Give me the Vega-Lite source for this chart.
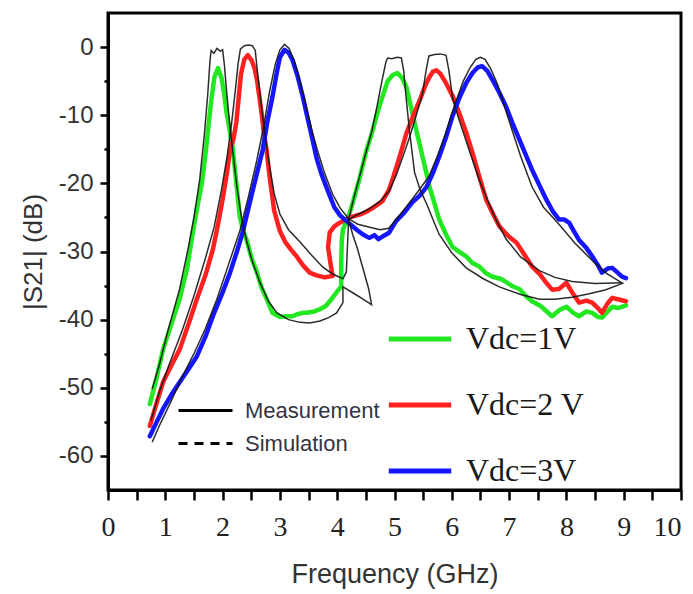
{
  "$schema": "https://vega.github.io/schema/vega-lite/v6.json",
  "autosize": "none",
  "width": 573,
  "height": 477,
  "padding": {"left": 108, "top": 13, "right": 12, "bottom": 104},
  "background": "white",
  "config": {
    "view": {"stroke": "black", "strokeWidth": 3},
    "axis": {"grid": false, "domainColor": "black", "domainWidth": 3, "tickColor": "black", "tickWidth": 2.5, "titleFontWeight": "normal", "labelOverlap": false, "labelFlush": false, "labelBound": false}
  },
  "datasets": {
    "curves": [
      {"kind":"Measurement","vdc":"Vdc=1V","i":0,"f":0.73,"db":-52.4},{"kind":"Measurement","vdc":"Vdc=1V","i":1,"f":0.85,"db":-48.5},{"kind":"Measurement","vdc":"Vdc=1V","i":2,"f":0.96,"db":-44.4},{"kind":"Measurement","vdc":"Vdc=1V","i":3,"f":1.1,"db":-40.8},{"kind":"Measurement","vdc":"Vdc=1V","i":4,"f":1.25,"db":-37},{"kind":"Measurement","vdc":"Vdc=1V","i":5,"f":1.38,"db":-32.5},{"kind":"Measurement","vdc":"Vdc=1V","i":6,"f":1.48,"db":-27.2},{"kind":"Measurement","vdc":"Vdc=1V","i":7,"f":1.57,"db":-23},{"kind":"Measurement","vdc":"Vdc=1V","i":8,"f":1.64,"db":-19.9},{"kind":"Measurement","vdc":"Vdc=1V","i":9,"f":1.71,"db":-15.1},{"kind":"Measurement","vdc":"Vdc=1V","i":10,"f":1.76,"db":-11},{"kind":"Measurement","vdc":"Vdc=1V","i":11,"f":1.81,"db":-7.3},{"kind":"Measurement","vdc":"Vdc=1V","i":12,"f":1.86,"db":-4.3},{"kind":"Measurement","vdc":"Vdc=1V","i":13,"f":1.92,"db":-3.1},{"kind":"Measurement","vdc":"Vdc=1V","i":14,"f":1.98,"db":-4.5},{"kind":"Measurement","vdc":"Vdc=1V","i":15,"f":2.03,"db":-7},{"kind":"Measurement","vdc":"Vdc=1V","i":16,"f":2.07,"db":-9.7},{"kind":"Measurement","vdc":"Vdc=1V","i":17,"f":2.12,"db":-12},{"kind":"Measurement","vdc":"Vdc=1V","i":18,"f":2.18,"db":-15.1},{"kind":"Measurement","vdc":"Vdc=1V","i":19,"f":2.24,"db":-20},{"kind":"Measurement","vdc":"Vdc=1V","i":20,"f":2.3,"db":-24.9},{"kind":"Measurement","vdc":"Vdc=1V","i":21,"f":2.36,"db":-27},{"kind":"Measurement","vdc":"Vdc=1V","i":22,"f":2.42,"db":-28.3},{"kind":"Measurement","vdc":"Vdc=1V","i":23,"f":2.5,"db":-30.8},{"kind":"Measurement","vdc":"Vdc=1V","i":24,"f":2.6,"db":-33.1},{"kind":"Measurement","vdc":"Vdc=1V","i":25,"f":2.68,"db":-35.3},{"kind":"Measurement","vdc":"Vdc=1V","i":26,"f":2.77,"db":-37},{"kind":"Measurement","vdc":"Vdc=1V","i":27,"f":2.87,"db":-39},{"kind":"Measurement","vdc":"Vdc=1V","i":28,"f":3.0,"db":-39.6},{"kind":"Measurement","vdc":"Vdc=1V","i":29,"f":3.12,"db":-39.5},{"kind":"Measurement","vdc":"Vdc=1V","i":30,"f":3.22,"db":-39.5},{"kind":"Measurement","vdc":"Vdc=1V","i":31,"f":3.3,"db":-39.2},{"kind":"Measurement","vdc":"Vdc=1V","i":32,"f":3.4,"db":-39},{"kind":"Measurement","vdc":"Vdc=1V","i":33,"f":3.47,"db":-39},{"kind":"Measurement","vdc":"Vdc=1V","i":34,"f":3.6,"db":-38.8},{"kind":"Measurement","vdc":"Vdc=1V","i":35,"f":3.69,"db":-38.5},{"kind":"Measurement","vdc":"Vdc=1V","i":36,"f":3.8,"db":-38},{"kind":"Measurement","vdc":"Vdc=1V","i":37,"f":3.9,"db":-37},{"kind":"Measurement","vdc":"Vdc=1V","i":38,"f":3.99,"db":-36},{"kind":"Measurement","vdc":"Vdc=1V","i":39,"f":4.07,"db":-35.1},{"kind":"Measurement","vdc":"Vdc=1V","i":40,"f":4.07,"db":-31.6},{"kind":"Measurement","vdc":"Vdc=1V","i":41,"f":4.08,"db":-28.5},{"kind":"Measurement","vdc":"Vdc=1V","i":42,"f":4.1,"db":-26.8},{"kind":"Measurement","vdc":"Vdc=1V","i":43,"f":4.22,"db":-24.3},{"kind":"Measurement","vdc":"Vdc=1V","i":44,"f":4.3,"db":-22},{"kind":"Measurement","vdc":"Vdc=1V","i":45,"f":4.39,"db":-19.3},{"kind":"Measurement","vdc":"Vdc=1V","i":46,"f":4.5,"db":-15.5},{"kind":"Measurement","vdc":"Vdc=1V","i":47,"f":4.62,"db":-12.2},{"kind":"Measurement","vdc":"Vdc=1V","i":48,"f":4.7,"db":-9.7},{"kind":"Measurement","vdc":"Vdc=1V","i":49,"f":4.79,"db":-7.3},{"kind":"Measurement","vdc":"Vdc=1V","i":50,"f":4.88,"db":-5},{"kind":"Measurement","vdc":"Vdc=1V","i":51,"f":4.97,"db":-4.1},{"kind":"Measurement","vdc":"Vdc=1V","i":52,"f":5.05,"db":-3.8},{"kind":"Measurement","vdc":"Vdc=1V","i":53,"f":5.13,"db":-4.5},{"kind":"Measurement","vdc":"Vdc=1V","i":54,"f":5.21,"db":-5.9},{"kind":"Measurement","vdc":"Vdc=1V","i":55,"f":5.28,"db":-8.5},{"kind":"Measurement","vdc":"Vdc=1V","i":56,"f":5.35,"db":-11.1},{"kind":"Measurement","vdc":"Vdc=1V","i":57,"f":5.42,"db":-13.6},{"kind":"Measurement","vdc":"Vdc=1V","i":58,"f":5.49,"db":-16.1},{"kind":"Measurement","vdc":"Vdc=1V","i":59,"f":5.57,"db":-19},{"kind":"Measurement","vdc":"Vdc=1V","i":60,"f":5.61,"db":-20.5},{"kind":"Measurement","vdc":"Vdc=1V","i":61,"f":5.7,"db":-23},{"kind":"Measurement","vdc":"Vdc=1V","i":62,"f":5.78,"db":-25.3},{"kind":"Measurement","vdc":"Vdc=1V","i":63,"f":5.9,"db":-27.5},{"kind":"Measurement","vdc":"Vdc=1V","i":64,"f":6.01,"db":-29.3},{"kind":"Measurement","vdc":"Vdc=1V","i":65,"f":6.12,"db":-30},{"kind":"Measurement","vdc":"Vdc=1V","i":66,"f":6.25,"db":-30.7},{"kind":"Measurement","vdc":"Vdc=1V","i":67,"f":6.36,"db":-31.7},{"kind":"Measurement","vdc":"Vdc=1V","i":68,"f":6.48,"db":-32.2},{"kind":"Measurement","vdc":"Vdc=1V","i":69,"f":6.6,"db":-33.2},{"kind":"Measurement","vdc":"Vdc=1V","i":70,"f":6.71,"db":-33.7},{"kind":"Measurement","vdc":"Vdc=1V","i":71,"f":6.85,"db":-34},{"kind":"Measurement","vdc":"Vdc=1V","i":72,"f":6.95,"db":-34.5},{"kind":"Measurement","vdc":"Vdc=1V","i":73,"f":7.06,"db":-35.1},{"kind":"Measurement","vdc":"Vdc=1V","i":74,"f":7.18,"db":-35.5},{"kind":"Measurement","vdc":"Vdc=1V","i":75,"f":7.3,"db":-36.6},{"kind":"Measurement","vdc":"Vdc=1V","i":76,"f":7.4,"db":-37.3},{"kind":"Measurement","vdc":"Vdc=1V","i":77,"f":7.55,"db":-38},{"kind":"Measurement","vdc":"Vdc=1V","i":78,"f":7.75,"db":-39.5},{"kind":"Measurement","vdc":"Vdc=1V","i":79,"f":7.88,"db":-38.6},{"kind":"Measurement","vdc":"Vdc=1V","i":80,"f":8.0,"db":-38.1},{"kind":"Measurement","vdc":"Vdc=1V","i":81,"f":8.12,"db":-39},{"kind":"Measurement","vdc":"Vdc=1V","i":82,"f":8.22,"db":-39.5},{"kind":"Measurement","vdc":"Vdc=1V","i":83,"f":8.35,"db":-38.8},{"kind":"Measurement","vdc":"Vdc=1V","i":84,"f":8.45,"db":-39},{"kind":"Measurement","vdc":"Vdc=1V","i":85,"f":8.55,"db":-39.6},{"kind":"Measurement","vdc":"Vdc=1V","i":86,"f":8.62,"db":-39.7},{"kind":"Measurement","vdc":"Vdc=1V","i":87,"f":8.72,"db":-38.8},{"kind":"Measurement","vdc":"Vdc=1V","i":88,"f":8.8,"db":-38.1},{"kind":"Measurement","vdc":"Vdc=1V","i":89,"f":8.9,"db":-38.3},{"kind":"Measurement","vdc":"Vdc=1V","i":90,"f":9.04,"db":-37.9},

      {"kind":"Measurement","vdc":"Vdc=2 V","i":0,"f":0.73,"db":-55.6},{"kind":"Measurement","vdc":"Vdc=2 V","i":1,"f":0.85,"db":-52.2},{"kind":"Measurement","vdc":"Vdc=2 V","i":2,"f":0.96,"db":-49.2},{"kind":"Measurement","vdc":"Vdc=2 V","i":3,"f":1.1,"db":-46.8},{"kind":"Measurement","vdc":"Vdc=2 V","i":4,"f":1.25,"db":-44.4},{"kind":"Measurement","vdc":"Vdc=2 V","i":5,"f":1.4,"db":-40.8},{"kind":"Measurement","vdc":"Vdc=2 V","i":6,"f":1.55,"db":-37},{"kind":"Measurement","vdc":"Vdc=2 V","i":7,"f":1.7,"db":-33.5},{"kind":"Measurement","vdc":"Vdc=2 V","i":8,"f":1.83,"db":-29.7},{"kind":"Measurement","vdc":"Vdc=2 V","i":9,"f":1.92,"db":-26},{"kind":"Measurement","vdc":"Vdc=2 V","i":10,"f":2.0,"db":-22.4},{"kind":"Measurement","vdc":"Vdc=2 V","i":11,"f":2.07,"db":-18.8},{"kind":"Measurement","vdc":"Vdc=2 V","i":12,"f":2.13,"db":-15.1},{"kind":"Measurement","vdc":"Vdc=2 V","i":13,"f":2.19,"db":-13.5},{"kind":"Measurement","vdc":"Vdc=2 V","i":14,"f":2.24,"db":-11},{"kind":"Measurement","vdc":"Vdc=2 V","i":15,"f":2.28,"db":-7.5},{"kind":"Measurement","vdc":"Vdc=2 V","i":16,"f":2.32,"db":-4},{"kind":"Measurement","vdc":"Vdc=2 V","i":17,"f":2.38,"db":-1.8},{"kind":"Measurement","vdc":"Vdc=2 V","i":18,"f":2.44,"db":-1.2},{"kind":"Measurement","vdc":"Vdc=2 V","i":19,"f":2.51,"db":-2},{"kind":"Measurement","vdc":"Vdc=2 V","i":20,"f":2.56,"db":-3.2},{"kind":"Measurement","vdc":"Vdc=2 V","i":21,"f":2.6,"db":-4.8},{"kind":"Measurement","vdc":"Vdc=2 V","i":22,"f":2.64,"db":-7.2},{"kind":"Measurement","vdc":"Vdc=2 V","i":23,"f":2.68,"db":-9.7},{"kind":"Measurement","vdc":"Vdc=2 V","i":24,"f":2.72,"db":-12.5},{"kind":"Measurement","vdc":"Vdc=2 V","i":25,"f":2.77,"db":-15.3},{"kind":"Measurement","vdc":"Vdc=2 V","i":26,"f":2.82,"db":-19},{"kind":"Measurement","vdc":"Vdc=2 V","i":27,"f":2.9,"db":-24},{"kind":"Measurement","vdc":"Vdc=2 V","i":28,"f":3.0,"db":-27},{"kind":"Measurement","vdc":"Vdc=2 V","i":29,"f":3.1,"db":-28.7},{"kind":"Measurement","vdc":"Vdc=2 V","i":30,"f":3.2,"db":-29.8},{"kind":"Measurement","vdc":"Vdc=2 V","i":31,"f":3.29,"db":-30.7},{"kind":"Measurement","vdc":"Vdc=2 V","i":32,"f":3.4,"db":-32},{"kind":"Measurement","vdc":"Vdc=2 V","i":33,"f":3.52,"db":-33.1},{"kind":"Measurement","vdc":"Vdc=2 V","i":34,"f":3.64,"db":-33.5},{"kind":"Measurement","vdc":"Vdc=2 V","i":35,"f":3.78,"db":-33.8},{"kind":"Measurement","vdc":"Vdc=2 V","i":36,"f":3.92,"db":-33.6},{"kind":"Measurement","vdc":"Vdc=2 V","i":37,"f":3.88,"db":-31.6},{"kind":"Measurement","vdc":"Vdc=2 V","i":38,"f":3.84,"db":-29.3},{"kind":"Measurement","vdc":"Vdc=2 V","i":39,"f":3.87,"db":-27.2},{"kind":"Measurement","vdc":"Vdc=2 V","i":40,"f":3.95,"db":-26.3},{"kind":"Measurement","vdc":"Vdc=2 V","i":41,"f":4.04,"db":-25.8},{"kind":"Measurement","vdc":"Vdc=2 V","i":42,"f":4.22,"db":-25},{"kind":"Measurement","vdc":"Vdc=2 V","i":43,"f":4.39,"db":-24.6},{"kind":"Measurement","vdc":"Vdc=2 V","i":44,"f":4.5,"db":-24.2},{"kind":"Measurement","vdc":"Vdc=2 V","i":45,"f":4.64,"db":-23.5},{"kind":"Measurement","vdc":"Vdc=2 V","i":46,"f":4.79,"db":-22.6},{"kind":"Measurement","vdc":"Vdc=2 V","i":47,"f":4.9,"db":-21},{"kind":"Measurement","vdc":"Vdc=2 V","i":48,"f":4.97,"db":-19.3},{"kind":"Measurement","vdc":"Vdc=2 V","i":49,"f":5.1,"db":-15.8},{"kind":"Measurement","vdc":"Vdc=2 V","i":50,"f":5.21,"db":-12.6},{"kind":"Measurement","vdc":"Vdc=2 V","i":51,"f":5.33,"db":-10},{"kind":"Measurement","vdc":"Vdc=2 V","i":52,"f":5.44,"db":-7.8},{"kind":"Measurement","vdc":"Vdc=2 V","i":53,"f":5.53,"db":-5.8},{"kind":"Measurement","vdc":"Vdc=2 V","i":54,"f":5.61,"db":-4.4},{"kind":"Measurement","vdc":"Vdc=2 V","i":55,"f":5.67,"db":-3.6},{"kind":"Measurement","vdc":"Vdc=2 V","i":56,"f":5.73,"db":-3.4},{"kind":"Measurement","vdc":"Vdc=2 V","i":57,"f":5.8,"db":-3.9},{"kind":"Measurement","vdc":"Vdc=2 V","i":58,"f":5.9,"db":-5.3},{"kind":"Measurement","vdc":"Vdc=2 V","i":59,"f":6.02,"db":-7.3},{"kind":"Measurement","vdc":"Vdc=2 V","i":60,"f":6.13,"db":-9.7},{"kind":"Measurement","vdc":"Vdc=2 V","i":61,"f":6.25,"db":-12.5},{"kind":"Measurement","vdc":"Vdc=2 V","i":62,"f":6.36,"db":-15.5},{"kind":"Measurement","vdc":"Vdc=2 V","i":63,"f":6.48,"db":-19},{"kind":"Measurement","vdc":"Vdc=2 V","i":64,"f":6.6,"db":-22.4},{"kind":"Measurement","vdc":"Vdc=2 V","i":65,"f":6.72,"db":-24.5},{"kind":"Measurement","vdc":"Vdc=2 V","i":66,"f":6.83,"db":-26.3},{"kind":"Measurement","vdc":"Vdc=2 V","i":67,"f":6.98,"db":-27.7},{"kind":"Measurement","vdc":"Vdc=2 V","i":68,"f":7.13,"db":-28.7},{"kind":"Measurement","vdc":"Vdc=2 V","i":69,"f":7.27,"db":-30.5},{"kind":"Measurement","vdc":"Vdc=2 V","i":70,"f":7.4,"db":-32.2},{"kind":"Measurement","vdc":"Vdc=2 V","i":71,"f":7.53,"db":-33.3},{"kind":"Measurement","vdc":"Vdc=2 V","i":72,"f":7.65,"db":-34.6},{"kind":"Measurement","vdc":"Vdc=2 V","i":73,"f":7.75,"db":-35.6},{"kind":"Measurement","vdc":"Vdc=2 V","i":74,"f":7.87,"db":-35.5},{"kind":"Measurement","vdc":"Vdc=2 V","i":75,"f":8.0,"db":-34.6},{"kind":"Measurement","vdc":"Vdc=2 V","i":76,"f":8.1,"db":-36},{"kind":"Measurement","vdc":"Vdc=2 V","i":77,"f":8.22,"db":-37.5},{"kind":"Measurement","vdc":"Vdc=2 V","i":78,"f":8.35,"db":-37.2},{"kind":"Measurement","vdc":"Vdc=2 V","i":79,"f":8.45,"db":-37.5},{"kind":"Measurement","vdc":"Vdc=2 V","i":80,"f":8.55,"db":-38.3},{"kind":"Measurement","vdc":"Vdc=2 V","i":81,"f":8.62,"db":-39},{"kind":"Measurement","vdc":"Vdc=2 V","i":82,"f":8.72,"db":-37.6},{"kind":"Measurement","vdc":"Vdc=2 V","i":83,"f":8.8,"db":-36.8},{"kind":"Measurement","vdc":"Vdc=2 V","i":84,"f":8.9,"db":-37},{"kind":"Measurement","vdc":"Vdc=2 V","i":85,"f":9.04,"db":-37.3},

      {"kind":"Measurement","vdc":"Vdc=3V","i":0,"f":0.73,"db":-57.1},{"kind":"Measurement","vdc":"Vdc=3V","i":1,"f":0.85,"db":-55},{"kind":"Measurement","vdc":"Vdc=3V","i":2,"f":0.96,"db":-53.1},{"kind":"Measurement","vdc":"Vdc=3V","i":3,"f":1.1,"db":-51.1},{"kind":"Measurement","vdc":"Vdc=3V","i":4,"f":1.25,"db":-49.2},{"kind":"Measurement","vdc":"Vdc=3V","i":5,"f":1.4,"db":-47.3},{"kind":"Measurement","vdc":"Vdc=3V","i":6,"f":1.55,"db":-45.4},{"kind":"Measurement","vdc":"Vdc=3V","i":7,"f":1.7,"db":-42.5},{"kind":"Measurement","vdc":"Vdc=3V","i":8,"f":1.83,"db":-39.5},{"kind":"Measurement","vdc":"Vdc=3V","i":9,"f":2.0,"db":-36},{"kind":"Measurement","vdc":"Vdc=3V","i":10,"f":2.13,"db":-33.1},{"kind":"Measurement","vdc":"Vdc=3V","i":11,"f":2.25,"db":-30},{"kind":"Measurement","vdc":"Vdc=3V","i":12,"f":2.35,"db":-27.2},{"kind":"Measurement","vdc":"Vdc=3V","i":13,"f":2.44,"db":-24},{"kind":"Measurement","vdc":"Vdc=3V","i":14,"f":2.53,"db":-20.9},{"kind":"Measurement","vdc":"Vdc=3V","i":15,"f":2.62,"db":-17.8},{"kind":"Measurement","vdc":"Vdc=3V","i":16,"f":2.7,"db":-15.1},{"kind":"Measurement","vdc":"Vdc=3V","i":17,"f":2.78,"db":-11},{"kind":"Measurement","vdc":"Vdc=3V","i":18,"f":2.87,"db":-7.3},{"kind":"Measurement","vdc":"Vdc=3V","i":19,"f":2.94,"db":-4},{"kind":"Measurement","vdc":"Vdc=3V","i":20,"f":3.0,"db":-1.5},{"kind":"Measurement","vdc":"Vdc=3V","i":21,"f":3.08,"db":-0.4},{"kind":"Measurement","vdc":"Vdc=3V","i":22,"f":3.15,"db":-0.8},{"kind":"Measurement","vdc":"Vdc=3V","i":23,"f":3.22,"db":-1.9},{"kind":"Measurement","vdc":"Vdc=3V","i":24,"f":3.31,"db":-4.3},{"kind":"Measurement","vdc":"Vdc=3V","i":25,"f":3.4,"db":-7.3},{"kind":"Measurement","vdc":"Vdc=3V","i":26,"f":3.48,"db":-10.3},{"kind":"Measurement","vdc":"Vdc=3V","i":27,"f":3.57,"db":-13.6},{"kind":"Measurement","vdc":"Vdc=3V","i":28,"f":3.64,"db":-16.3},{"kind":"Measurement","vdc":"Vdc=3V","i":29,"f":3.72,"db":-18.5},{"kind":"Measurement","vdc":"Vdc=3V","i":30,"f":3.8,"db":-20.3},{"kind":"Measurement","vdc":"Vdc=3V","i":31,"f":3.87,"db":-21.8},{"kind":"Measurement","vdc":"Vdc=3V","i":32,"f":3.95,"db":-23.5},{"kind":"Measurement","vdc":"Vdc=3V","i":33,"f":4.05,"db":-24.7},{"kind":"Measurement","vdc":"Vdc=3V","i":34,"f":4.16,"db":-25.5},{"kind":"Measurement","vdc":"Vdc=3V","i":35,"f":4.34,"db":-26.8},{"kind":"Measurement","vdc":"Vdc=3V","i":36,"f":4.45,"db":-27.5},{"kind":"Measurement","vdc":"Vdc=3V","i":37,"f":4.56,"db":-28},{"kind":"Measurement","vdc":"Vdc=3V","i":38,"f":4.65,"db":-27.6},{"kind":"Measurement","vdc":"Vdc=3V","i":39,"f":4.72,"db":-28.2},{"kind":"Measurement","vdc":"Vdc=3V","i":40,"f":4.79,"db":-27.8},{"kind":"Measurement","vdc":"Vdc=3V","i":41,"f":4.9,"db":-27.3},{"kind":"Measurement","vdc":"Vdc=3V","i":42,"f":5.03,"db":-25.5},{"kind":"Measurement","vdc":"Vdc=3V","i":43,"f":5.17,"db":-24.3},{"kind":"Measurement","vdc":"Vdc=3V","i":44,"f":5.31,"db":-22.8},{"kind":"Measurement","vdc":"Vdc=3V","i":45,"f":5.44,"db":-21.8},{"kind":"Measurement","vdc":"Vdc=3V","i":46,"f":5.56,"db":-20.5},{"kind":"Measurement","vdc":"Vdc=3V","i":47,"f":5.67,"db":-18.5},{"kind":"Measurement","vdc":"Vdc=3V","i":48,"f":5.78,"db":-16.1},{"kind":"Measurement","vdc":"Vdc=3V","i":49,"f":5.9,"db":-13.2},{"kind":"Measurement","vdc":"Vdc=3V","i":50,"f":6.01,"db":-10.2},{"kind":"Measurement","vdc":"Vdc=3V","i":51,"f":6.13,"db":-7.5},{"kind":"Measurement","vdc":"Vdc=3V","i":52,"f":6.25,"db":-5.3},{"kind":"Measurement","vdc":"Vdc=3V","i":53,"f":6.36,"db":-3.8},{"kind":"Measurement","vdc":"Vdc=3V","i":54,"f":6.45,"db":-3.0},{"kind":"Measurement","vdc":"Vdc=3V","i":55,"f":6.53,"db":-2.8},{"kind":"Measurement","vdc":"Vdc=3V","i":56,"f":6.62,"db":-3.5},{"kind":"Measurement","vdc":"Vdc=3V","i":57,"f":6.71,"db":-4.8},{"kind":"Measurement","vdc":"Vdc=3V","i":58,"f":6.83,"db":-6.7},{"kind":"Measurement","vdc":"Vdc=3V","i":59,"f":6.95,"db":-8.8},{"kind":"Measurement","vdc":"Vdc=3V","i":60,"f":7.06,"db":-11.2},{"kind":"Measurement","vdc":"Vdc=3V","i":61,"f":7.18,"db":-13.6},{"kind":"Measurement","vdc":"Vdc=3V","i":62,"f":7.3,"db":-16},{"kind":"Measurement","vdc":"Vdc=3V","i":63,"f":7.4,"db":-18},{"kind":"Measurement","vdc":"Vdc=3V","i":64,"f":7.53,"db":-20.3},{"kind":"Measurement","vdc":"Vdc=3V","i":65,"f":7.65,"db":-22.4},{"kind":"Measurement","vdc":"Vdc=3V","i":66,"f":7.77,"db":-24.2},{"kind":"Measurement","vdc":"Vdc=3V","i":67,"f":7.87,"db":-25.3},{"kind":"Measurement","vdc":"Vdc=3V","i":68,"f":7.96,"db":-25.3},{"kind":"Measurement","vdc":"Vdc=3V","i":69,"f":8.05,"db":-25.8},{"kind":"Measurement","vdc":"Vdc=3V","i":70,"f":8.13,"db":-27},{"kind":"Measurement","vdc":"Vdc=3V","i":71,"f":8.22,"db":-28.3},{"kind":"Measurement","vdc":"Vdc=3V","i":72,"f":8.35,"db":-29.5},{"kind":"Measurement","vdc":"Vdc=3V","i":73,"f":8.45,"db":-30.7},{"kind":"Measurement","vdc":"Vdc=3V","i":74,"f":8.55,"db":-32},{"kind":"Measurement","vdc":"Vdc=3V","i":75,"f":8.62,"db":-33.1},{"kind":"Measurement","vdc":"Vdc=3V","i":76,"f":8.72,"db":-32.5},{"kind":"Measurement","vdc":"Vdc=3V","i":77,"f":8.8,"db":-32.4},{"kind":"Measurement","vdc":"Vdc=3V","i":78,"f":8.88,"db":-33},{"kind":"Measurement","vdc":"Vdc=3V","i":79,"f":8.97,"db":-33.7},{"kind":"Measurement","vdc":"Vdc=3V","i":80,"f":9.04,"db":-33.9},

      {"kind":"Simulation","vdc":"Vdc=1V","i":0,"f":0.77,"db":-50.2},{"kind":"Simulation","vdc":"Vdc=1V","i":1,"f":0.9,"db":-46.5},{"kind":"Simulation","vdc":"Vdc=1V","i":2,"f":1.05,"db":-41.5},{"kind":"Simulation","vdc":"Vdc=1V","i":3,"f":1.25,"db":-35.5},{"kind":"Simulation","vdc":"Vdc=1V","i":4,"f":1.4,"db":-29.5},{"kind":"Simulation","vdc":"Vdc=1V","i":5,"f":1.5,"db":-25},{"kind":"Simulation","vdc":"Vdc=1V","i":6,"f":1.6,"db":-19.5},{"kind":"Simulation","vdc":"Vdc=1V","i":7,"f":1.68,"db":-13},{"kind":"Simulation","vdc":"Vdc=1V","i":8,"f":1.74,"db":-7},{"kind":"Simulation","vdc":"Vdc=1V","i":9,"f":1.78,"db":-2},{"kind":"Simulation","vdc":"Vdc=1V","i":10,"f":1.8,"db":-0.5},{"kind":"Simulation","vdc":"Vdc=1V","i":11,"f":1.85,"db":-0.9},{"kind":"Simulation","vdc":"Vdc=1V","i":12,"f":1.9,"db":-0.2},{"kind":"Simulation","vdc":"Vdc=1V","i":13,"f":1.96,"db":-0.6},{"kind":"Simulation","vdc":"Vdc=1V","i":14,"f":2.0,"db":-0.4},{"kind":"Simulation","vdc":"Vdc=1V","i":15,"f":2.03,"db":-2.5},{"kind":"Simulation","vdc":"Vdc=1V","i":16,"f":2.07,"db":-6.5},{"kind":"Simulation","vdc":"Vdc=1V","i":17,"f":2.12,"db":-11},{"kind":"Simulation","vdc":"Vdc=1V","i":18,"f":2.18,"db":-15.5},{"kind":"Simulation","vdc":"Vdc=1V","i":19,"f":2.25,"db":-20.5},{"kind":"Simulation","vdc":"Vdc=1V","i":20,"f":2.33,"db":-25},{"kind":"Simulation","vdc":"Vdc=1V","i":21,"f":2.42,"db":-28.5},{"kind":"Simulation","vdc":"Vdc=1V","i":22,"f":2.52,"db":-31.5},{"kind":"Simulation","vdc":"Vdc=1V","i":23,"f":2.65,"db":-34.5},{"kind":"Simulation","vdc":"Vdc=1V","i":24,"f":2.8,"db":-37.3},{"kind":"Simulation","vdc":"Vdc=1V","i":25,"f":2.95,"db":-39},{"kind":"Simulation","vdc":"Vdc=1V","i":26,"f":3.15,"db":-40},{"kind":"Simulation","vdc":"Vdc=1V","i":27,"f":3.35,"db":-40.4},{"kind":"Simulation","vdc":"Vdc=1V","i":28,"f":3.52,"db":-40.5},{"kind":"Simulation","vdc":"Vdc=1V","i":29,"f":3.7,"db":-40.2},{"kind":"Simulation","vdc":"Vdc=1V","i":30,"f":3.85,"db":-39.7},{"kind":"Simulation","vdc":"Vdc=1V","i":31,"f":3.99,"db":-39},{"kind":"Simulation","vdc":"Vdc=1V","i":32,"f":4.1,"db":-37.5},{"kind":"Simulation","vdc":"Vdc=1V","i":33,"f":4.1,"db":-35.2},{"kind":"Simulation","vdc":"Vdc=1V","i":34,"f":4.3,"db":-36.2},{"kind":"Simulation","vdc":"Vdc=1V","i":35,"f":4.45,"db":-37},{"kind":"Simulation","vdc":"Vdc=1V","i":36,"f":4.6,"db":-37.8},{"kind":"Simulation","vdc":"Vdc=1V","i":37,"f":4.55,"db":-35.5},{"kind":"Simulation","vdc":"Vdc=1V","i":38,"f":4.45,"db":-32.5},{"kind":"Simulation","vdc":"Vdc=1V","i":39,"f":4.35,"db":-29.5},{"kind":"Simulation","vdc":"Vdc=1V","i":40,"f":4.27,"db":-27.5},{"kind":"Simulation","vdc":"Vdc=1V","i":41,"f":4.2,"db":-25.3},{"kind":"Simulation","vdc":"Vdc=1V","i":42,"f":4.28,"db":-22.5},{"kind":"Simulation","vdc":"Vdc=1V","i":43,"f":4.38,"db":-19.3},{"kind":"Simulation","vdc":"Vdc=1V","i":44,"f":4.5,"db":-15.5},{"kind":"Simulation","vdc":"Vdc=1V","i":45,"f":4.6,"db":-12.5},{"kind":"Simulation","vdc":"Vdc=1V","i":46,"f":4.7,"db":-8.5},{"kind":"Simulation","vdc":"Vdc=1V","i":47,"f":4.78,"db":-5},{"kind":"Simulation","vdc":"Vdc=1V","i":48,"f":4.85,"db":-2.2},{"kind":"Simulation","vdc":"Vdc=1V","i":49,"f":4.88,"db":-1.6},{"kind":"Simulation","vdc":"Vdc=1V","i":50,"f":4.95,"db":-1.7},{"kind":"Simulation","vdc":"Vdc=1V","i":51,"f":5.05,"db":-1.5},{"kind":"Simulation","vdc":"Vdc=1V","i":52,"f":5.12,"db":-1.6},{"kind":"Simulation","vdc":"Vdc=1V","i":53,"f":5.16,"db":-3.5},{"kind":"Simulation","vdc":"Vdc=1V","i":54,"f":5.21,"db":-8},{"kind":"Simulation","vdc":"Vdc=1V","i":55,"f":5.26,"db":-12.2},{"kind":"Simulation","vdc":"Vdc=1V","i":56,"f":5.35,"db":-18.4},{"kind":"Simulation","vdc":"Vdc=1V","i":57,"f":5.45,"db":-21},{"kind":"Simulation","vdc":"Vdc=1V","i":58,"f":5.56,"db":-23},{"kind":"Simulation","vdc":"Vdc=1V","i":59,"f":5.68,"db":-25.5},{"kind":"Simulation","vdc":"Vdc=1V","i":60,"f":5.78,"db":-27.5},{"kind":"Simulation","vdc":"Vdc=1V","i":61,"f":6.0,"db":-30.2},{"kind":"Simulation","vdc":"Vdc=1V","i":62,"f":6.25,"db":-32.4},{"kind":"Simulation","vdc":"Vdc=1V","i":63,"f":6.55,"db":-34},{"kind":"Simulation","vdc":"Vdc=1V","i":64,"f":6.83,"db":-35.2},{"kind":"Simulation","vdc":"Vdc=1V","i":65,"f":7.2,"db":-36.3},{"kind":"Simulation","vdc":"Vdc=1V","i":66,"f":7.53,"db":-37},{"kind":"Simulation","vdc":"Vdc=1V","i":67,"f":7.8,"db":-37},{"kind":"Simulation","vdc":"Vdc=1V","i":68,"f":8.1,"db":-36.7},{"kind":"Simulation","vdc":"Vdc=1V","i":69,"f":8.4,"db":-36.2},{"kind":"Simulation","vdc":"Vdc=1V","i":70,"f":8.69,"db":-35.6},{"kind":"Simulation","vdc":"Vdc=1V","i":71,"f":9.0,"db":-34.6},

      {"kind":"Simulation","vdc":"Vdc=2 V","i":0,"f":0.75,"db":-54.8},{"kind":"Simulation","vdc":"Vdc=2 V","i":1,"f":0.9,"db":-50.5},{"kind":"Simulation","vdc":"Vdc=2 V","i":2,"f":1.05,"db":-47},{"kind":"Simulation","vdc":"Vdc=2 V","i":3,"f":1.3,"db":-41.5},{"kind":"Simulation","vdc":"Vdc=2 V","i":4,"f":1.5,"db":-36.5},{"kind":"Simulation","vdc":"Vdc=2 V","i":5,"f":1.7,"db":-31},{"kind":"Simulation","vdc":"Vdc=2 V","i":6,"f":1.85,"db":-26.5},{"kind":"Simulation","vdc":"Vdc=2 V","i":7,"f":1.98,"db":-21},{"kind":"Simulation","vdc":"Vdc=2 V","i":8,"f":2.08,"db":-16},{"kind":"Simulation","vdc":"Vdc=2 V","i":9,"f":2.16,"db":-11},{"kind":"Simulation","vdc":"Vdc=2 V","i":10,"f":2.22,"db":-6.5},{"kind":"Simulation","vdc":"Vdc=2 V","i":11,"f":2.27,"db":-2.5},{"kind":"Simulation","vdc":"Vdc=2 V","i":12,"f":2.31,"db":-0.3},{"kind":"Simulation","vdc":"Vdc=2 V","i":13,"f":2.38,"db":0.2},{"kind":"Simulation","vdc":"Vdc=2 V","i":14,"f":2.45,"db":0.3},{"kind":"Simulation","vdc":"Vdc=2 V","i":15,"f":2.52,"db":0.2},{"kind":"Simulation","vdc":"Vdc=2 V","i":16,"f":2.57,"db":-0.5},{"kind":"Simulation","vdc":"Vdc=2 V","i":17,"f":2.6,"db":-3},{"kind":"Simulation","vdc":"Vdc=2 V","i":18,"f":2.66,"db":-7.5},{"kind":"Simulation","vdc":"Vdc=2 V","i":19,"f":2.72,"db":-11.5},{"kind":"Simulation","vdc":"Vdc=2 V","i":20,"f":2.8,"db":-16.5},{"kind":"Simulation","vdc":"Vdc=2 V","i":21,"f":2.9,"db":-21.5},{"kind":"Simulation","vdc":"Vdc=2 V","i":22,"f":3.0,"db":-24.5},{"kind":"Simulation","vdc":"Vdc=2 V","i":23,"f":3.15,"db":-26.8},{"kind":"Simulation","vdc":"Vdc=2 V","i":24,"f":3.34,"db":-28.5},{"kind":"Simulation","vdc":"Vdc=2 V","i":25,"f":3.55,"db":-30.5},{"kind":"Simulation","vdc":"Vdc=2 V","i":26,"f":3.75,"db":-32.3},{"kind":"Simulation","vdc":"Vdc=2 V","i":27,"f":3.92,"db":-33.3},{"kind":"Simulation","vdc":"Vdc=2 V","i":28,"f":4.1,"db":-34},{"kind":"Simulation","vdc":"Vdc=2 V","i":29,"f":4.16,"db":-33},{"kind":"Simulation","vdc":"Vdc=2 V","i":30,"f":4.18,"db":-29},{"kind":"Simulation","vdc":"Vdc=2 V","i":31,"f":4.2,"db":-25.3},{"kind":"Simulation","vdc":"Vdc=2 V","i":32,"f":4.35,"db":-24.6},{"kind":"Simulation","vdc":"Vdc=2 V","i":33,"f":4.55,"db":-23.8},{"kind":"Simulation","vdc":"Vdc=2 V","i":34,"f":4.75,"db":-22.6},{"kind":"Simulation","vdc":"Vdc=2 V","i":35,"f":4.9,"db":-21.2},{"kind":"Simulation","vdc":"Vdc=2 V","i":36,"f":5.03,"db":-18.8},{"kind":"Simulation","vdc":"Vdc=2 V","i":37,"f":5.15,"db":-16},{"kind":"Simulation","vdc":"Vdc=2 V","i":38,"f":5.26,"db":-13.3},{"kind":"Simulation","vdc":"Vdc=2 V","i":39,"f":5.38,"db":-10},{"kind":"Simulation","vdc":"Vdc=2 V","i":40,"f":5.49,"db":-6.8},{"kind":"Simulation","vdc":"Vdc=2 V","i":41,"f":5.55,"db":-3.5},{"kind":"Simulation","vdc":"Vdc=2 V","i":42,"f":5.6,"db":-1.3},{"kind":"Simulation","vdc":"Vdc=2 V","i":43,"f":5.7,"db":-1.1},{"kind":"Simulation","vdc":"Vdc=2 V","i":44,"f":5.8,"db":-1.0},{"kind":"Simulation","vdc":"Vdc=2 V","i":45,"f":5.9,"db":-1.2},{"kind":"Simulation","vdc":"Vdc=2 V","i":46,"f":5.95,"db":-3.5},{"kind":"Simulation","vdc":"Vdc=2 V","i":47,"f":6.01,"db":-7.3},{"kind":"Simulation","vdc":"Vdc=2 V","i":48,"f":6.12,"db":-10.5},{"kind":"Simulation","vdc":"Vdc=2 V","i":49,"f":6.25,"db":-13.8},{"kind":"Simulation","vdc":"Vdc=2 V","i":50,"f":6.37,"db":-16.8},{"kind":"Simulation","vdc":"Vdc=2 V","i":51,"f":6.48,"db":-19.5},{"kind":"Simulation","vdc":"Vdc=2 V","i":52,"f":6.62,"db":-22.4},{"kind":"Simulation","vdc":"Vdc=2 V","i":53,"f":6.78,"db":-25.5},{"kind":"Simulation","vdc":"Vdc=2 V","i":54,"f":6.95,"db":-28.2},{"kind":"Simulation","vdc":"Vdc=2 V","i":55,"f":7.2,"db":-30.8},{"kind":"Simulation","vdc":"Vdc=2 V","i":56,"f":7.53,"db":-32.8},{"kind":"Simulation","vdc":"Vdc=2 V","i":57,"f":7.8,"db":-33.8},{"kind":"Simulation","vdc":"Vdc=2 V","i":58,"f":8.1,"db":-34.4},{"kind":"Simulation","vdc":"Vdc=2 V","i":59,"f":8.5,"db":-34.7},{"kind":"Simulation","vdc":"Vdc=2 V","i":60,"f":8.97,"db":-34.6},

      {"kind":"Simulation","vdc":"Vdc=3V","i":0,"f":0.77,"db":-58},{"kind":"Simulation","vdc":"Vdc=3V","i":1,"f":0.9,"db":-55.5},{"kind":"Simulation","vdc":"Vdc=3V","i":2,"f":1.1,"db":-52},{"kind":"Simulation","vdc":"Vdc=3V","i":3,"f":1.3,"db":-48.3},{"kind":"Simulation","vdc":"Vdc=3V","i":4,"f":1.5,"db":-45},{"kind":"Simulation","vdc":"Vdc=3V","i":5,"f":1.7,"db":-41.3},{"kind":"Simulation","vdc":"Vdc=3V","i":6,"f":1.9,"db":-37},{"kind":"Simulation","vdc":"Vdc=3V","i":7,"f":2.1,"db":-32},{"kind":"Simulation","vdc":"Vdc=3V","i":8,"f":2.3,"db":-27},{"kind":"Simulation","vdc":"Vdc=3V","i":9,"f":2.45,"db":-22},{"kind":"Simulation","vdc":"Vdc=3V","i":10,"f":2.6,"db":-16.5},{"kind":"Simulation","vdc":"Vdc=3V","i":11,"f":2.72,"db":-11.5},{"kind":"Simulation","vdc":"Vdc=3V","i":12,"f":2.82,"db":-6.5},{"kind":"Simulation","vdc":"Vdc=3V","i":13,"f":2.92,"db":-2.5},{"kind":"Simulation","vdc":"Vdc=3V","i":14,"f":3.0,"db":-0.4},{"kind":"Simulation","vdc":"Vdc=3V","i":15,"f":3.08,"db":0.4},{"kind":"Simulation","vdc":"Vdc=3V","i":16,"f":3.16,"db":-0.2},{"kind":"Simulation","vdc":"Vdc=3V","i":17,"f":3.25,"db":-2},{"kind":"Simulation","vdc":"Vdc=3V","i":18,"f":3.35,"db":-5},{"kind":"Simulation","vdc":"Vdc=3V","i":19,"f":3.45,"db":-8.5},{"kind":"Simulation","vdc":"Vdc=3V","i":20,"f":3.55,"db":-12},{"kind":"Simulation","vdc":"Vdc=3V","i":21,"f":3.65,"db":-15},{"kind":"Simulation","vdc":"Vdc=3V","i":22,"f":3.78,"db":-18.5},{"kind":"Simulation","vdc":"Vdc=3V","i":23,"f":3.92,"db":-21.6},{"kind":"Simulation","vdc":"Vdc=3V","i":24,"f":4.05,"db":-23.6},{"kind":"Simulation","vdc":"Vdc=3V","i":25,"f":4.2,"db":-25.2},{"kind":"Simulation","vdc":"Vdc=3V","i":26,"f":4.36,"db":-26},{"kind":"Simulation","vdc":"Vdc=3V","i":27,"f":4.55,"db":-26.4},{"kind":"Simulation","vdc":"Vdc=3V","i":28,"f":4.75,"db":-26.8},{"kind":"Simulation","vdc":"Vdc=3V","i":29,"f":4.9,"db":-26.6},{"kind":"Simulation","vdc":"Vdc=3V","i":30,"f":5.03,"db":-25.3},{"kind":"Simulation","vdc":"Vdc=3V","i":31,"f":5.2,"db":-23.5},{"kind":"Simulation","vdc":"Vdc=3V","i":32,"f":5.4,"db":-21.3},{"kind":"Simulation","vdc":"Vdc=3V","i":33,"f":5.6,"db":-19},{"kind":"Simulation","vdc":"Vdc=3V","i":34,"f":5.75,"db":-16},{"kind":"Simulation","vdc":"Vdc=3V","i":35,"f":5.9,"db":-12.5},{"kind":"Simulation","vdc":"Vdc=3V","i":36,"f":6.05,"db":-8.5},{"kind":"Simulation","vdc":"Vdc=3V","i":37,"f":6.2,"db":-5},{"kind":"Simulation","vdc":"Vdc=3V","i":38,"f":6.32,"db":-3},{"kind":"Simulation","vdc":"Vdc=3V","i":39,"f":6.42,"db":-1.8},{"kind":"Simulation","vdc":"Vdc=3V","i":40,"f":6.5,"db":-1.5},{"kind":"Simulation","vdc":"Vdc=3V","i":41,"f":6.58,"db":-1.8},{"kind":"Simulation","vdc":"Vdc=3V","i":42,"f":6.68,"db":-3.2},{"kind":"Simulation","vdc":"Vdc=3V","i":43,"f":6.8,"db":-5.5},{"kind":"Simulation","vdc":"Vdc=3V","i":44,"f":6.95,"db":-9.5},{"kind":"Simulation","vdc":"Vdc=3V","i":45,"f":7.06,"db":-12.4},{"kind":"Simulation","vdc":"Vdc=3V","i":46,"f":7.2,"db":-16},{"kind":"Simulation","vdc":"Vdc=3V","i":47,"f":7.4,"db":-20.5},{"kind":"Simulation","vdc":"Vdc=3V","i":48,"f":7.6,"db":-23.5},{"kind":"Simulation","vdc":"Vdc=3V","i":49,"f":7.87,"db":-26},{"kind":"Simulation","vdc":"Vdc=3V","i":50,"f":8.15,"db":-28.8},{"kind":"Simulation","vdc":"Vdc=3V","i":51,"f":8.45,"db":-31.3},{"kind":"Simulation","vdc":"Vdc=3V","i":52,"f":8.7,"db":-33.2},{"kind":"Simulation","vdc":"Vdc=3V","i":53,"f":8.97,"db":-34.6}
    ]
  },
  "data": {"name": "curves"},
  "encoding": {
    "x": {
      "field": "f", "type": "quantitative",
      "scale": {"domain": [0, 10], "nice": false, "zero": false},
      "axis": {
        "values": [0,0.5,1,1.5,2,2.5,3,3.5,4,4.5,5,5.5,6,6.5,7,7.5,8,8.5,9,9.5,10],
        "labelExpr": "datum.value % 1 === 0 ? toString(datum.value) : ''",
        "labelAlign": {"condition": {"test": "datum.value === 10", "value": "right"}, "value": "center"},
        "tickSize": 10,
        "labelFont": "Liberation Serif", "labelFontSize": 28, "labelColor": "#222", "labelPadding": 13,
        "title": "Frequency (GHz)", "titleFont": "Liberation Sans", "titleFontSize": 27, "titleColor": "#333", "titlePadding": 20
      }
    },
    "y": {
      "field": "db", "type": "quantitative",
      "scale": {"domain": [-65, 5], "nice": false, "zero": false},
      "axis": {
        "values": [-60,-55,-50,-45,-40,-35,-30,-25,-20,-15,-10,-5,0],
        "labelExpr": "datum.value % 10 === 0 ? toString(datum.value) : ''",
        "tickSize": {"condition": {"test": "datum.value % 10 === 0", "value": 8}, "value": 4},
        "labelFont": "Liberation Sans", "labelFontSize": 24, "labelColor": "#333", "labelPadding": 7,
        "title": "|S21| (dB)", "titleFont": "Liberation Sans", "titleFontSize": 26, "titleColor": "#333", "titlePadding": 12
      }
    },
    "order": {"field": "i", "type": "quantitative"}
  },
  "layer": [
    {
      "transform": [{"filter": "datum.kind === 'Measurement'"}],
      "mark": {"type": "line", "strokeWidth": 4.5, "strokeJoin": "round", "strokeCap": "round"},
      "encoding": {
        "color": {
          "field": "vdc", "type": "nominal",
          "scale": {"domain": ["Vdc=1V", "Vdc=2 V", "Vdc=3V"], "range": ["#22e822", "#ff2020", "#1515ff"]},
          "legend": {
            "orient": "none", "legendX": 278, "legendY": 292, "title": null,
            "symbolType": "stroke", "symbolSize": 3900, "symbolStrokeWidth": 5,
            "labelFont": "Liberation Serif", "labelFontSize": 32, "labelColor": "#1a1a1a",
            "labelOffset": 12, "rowPadding": 16, "padding": 0, "labelLimit": 300
          }
        }
      }
    },
    {
      "transform": [{"filter": "datum.kind === 'Simulation'"}],
      "mark": {"type": "line", "strokeWidth": 1.5, "color": "#151515", "opacity": 0.9},
      "encoding": {
        "detail": {"field": "vdc", "type": "nominal"}
      }
    },
    {
      "transform": [{"filter": "datum.i < 0"}],
      "mark": {"type": "line", "color": "black"},
      "encoding": {
        "strokeDash": {
          "field": "kind", "type": "nominal",
          "scale": {"domain": ["Measurement", "Simulation"], "range": [[1, 0], [9, 7]]},
          "legend": {
            "orient": "none", "legendX": 81, "legendY": 381, "title": null,
            "symbolType": "M-1.8,0H1.8", "symbolSize": 900, "symbolStrokeWidth": 3, "symbolStrokeColor": "black",
            "labelFont": "Liberation Sans", "labelFontSize": 22, "labelColor": "#334",
            "labelOffset": 23, "rowPadding": 5, "padding": 0, "labelLimit": 300
          }
        }
      }
    }
  ]
}
